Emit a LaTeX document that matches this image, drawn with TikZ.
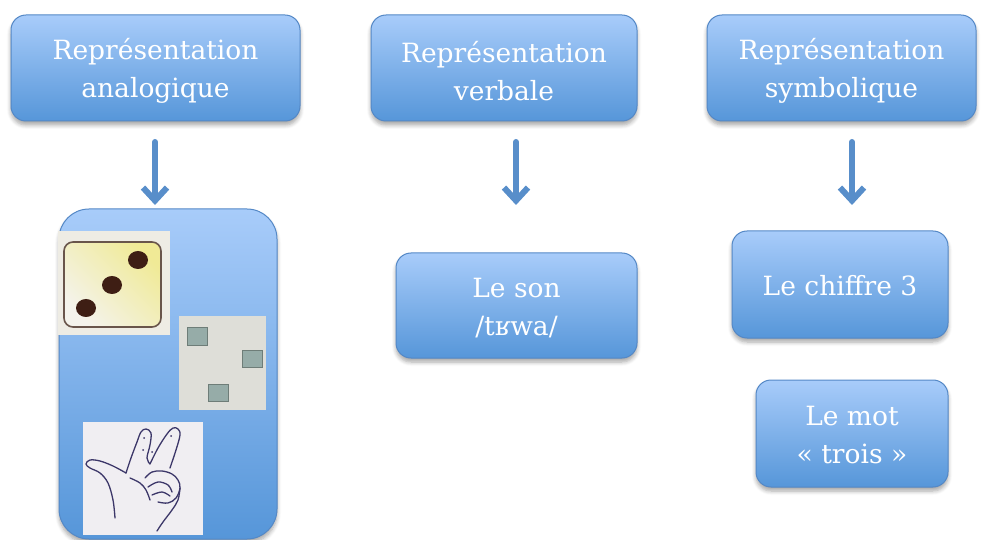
\documentclass[tikz,border=0pt]{standalone}
\usepackage{fontspec}
\setmainfont{DejaVu Serif}
\usetikzlibrary{arrows.meta,shadows.blur}
\definecolor{btop}{RGB}{168,204,250}
\definecolor{bbot}{RGB}{86,150,217}
\definecolor{bdraw}{RGB}{84,136,198}
\definecolor{arr}{RGB}{88,142,202}
\definecolor{diceback}{RGB}{238,236,228}
\definecolor{dicebd}{RGB}{105,85,75}
\definecolor{dicelt}{RGB}{244,243,236}
\definecolor{diceyl}{RGB}{240,234,150}
\definecolor{dot}{RGB}{62,30,20}
\definecolor{grayback}{RGB}{222,222,216}
\definecolor{sqfill}{RGB}{150,172,168}
\definecolor{sqdraw}{RGB}{110,125,120}
\definecolor{handbg}{RGB}{240,238,242}
\definecolor{handln}{RGB}{60,55,105}
\begin{document}
\begin{tikzpicture}[x=1pt,y=-1pt,
  box/.style={draw=bdraw, line width=1pt, rounded corners=15pt,
    top color=btop, bottom color=bbot, inner sep=0pt,
    blur shadow={shadow xshift=0pt, shadow yshift=-4pt, shadow blur radius=4pt, shadow blur steps=6, shadow opacity=35}},
  lab/.style={text=white, align=center, inner sep=0pt, font=\fontsize{26.5}{38}\selectfont},
  conn/.style={draw=arr, line width=6pt, line cap=round, line join=round,
    -{Straight Barb[length=13pt,width=24pt]}},
  hand/.style={draw=handln, line width=1.3pt, line cap=round, line join=round}]
\useasboundingbox (0,0) rectangle (986,540);

% top boxes
\node[box, minimum width=289pt, minimum height=106pt] (r1) at (155.5,68) {};
\node[box, minimum width=266pt, minimum height=106pt] (r2) at (504,68) {};
\node[box, minimum width=269pt, minimum height=106pt] (r3) at (841.5,68) {};
\node[lab] (t1) at ([yshift=-3pt]r1.center) {Représentation\\analogique};
\node[lab] (t2) at ([yshift=-3pt]r2.center) {Représentation\\verbale};
\node[lab] (t3) at ([yshift=-3pt]r3.center) {Représentation\\symbolique};

% lower boxes
\node[box, rounded corners=30pt, minimum width=218pt, minimum height=330pt] (ana) at (168,374) {};
\node[box, minimum width=241pt, minimum height=105pt] (son) at (516.5,305.5) {};
\node[box, minimum width=216pt, minimum height=107pt] (chif) at (840,284.5) {};
\node[box, minimum width=192pt, minimum height=107pt] (mot) at (852,433.5) {};
\node[lab] (t4) at ([yshift=-3pt]son.center) {Le son\\/tʁwa/};
\node[lab] (t5) at ([yshift=-1pt]chif.center) {Le chiffre 3};
\node[lab] (t6) at ([yshift=-2pt]mot.center) {Le mot\\« trois »};

% arrows
\coordinate (a1s) at (155,142); \coordinate (a1e) at (155,205);
\coordinate (a2s) at (516,142); \coordinate (a2e) at (516,205);
\coordinate (a3s) at (852,142); \coordinate (a3e) at (852,205);
\draw[conn] (a1s) -- (a1e);
\draw[conn] (a2s) -- (a2e);
\draw[conn] (a3s) -- (a3e);

% dice picture
\fill[diceback] (58,231) rectangle (170,335);
\shade[shading=axis, left color=dicelt, right color=diceyl, shading angle=135, rounded corners=9pt]
  (64,242) rectangle (161,327);
\draw[dicebd, line width=1.6pt, rounded corners=9pt] (64,242) rectangle (161,327);
\fill[dot] (138,260) ellipse (10 and 9);
\fill[dot] (112,285) ellipse (10 and 9);
\fill[dot] (86,308) ellipse (10 and 9);

% squares picture
\fill[grayback] (179,316) rectangle (266,410);
\filldraw[fill=sqfill, draw=sqdraw, line width=1pt] (187,328) rectangle (207,345);
\filldraw[fill=sqfill, draw=sqdraw, line width=1pt] (242,350) rectangle (262,367);
\filldraw[fill=sqfill, draw=sqdraw, line width=1pt] (208,384) rectangle (228,401);

% hand picture
\fill[handbg] (83,422) rectangle (203,535);
\draw[hand] plot[smooth, tension=0.6] coordinates {(126,473) (113,466) (100,461) (90,460) (86,464) (90,468) (100,473) (108,483) (113,500) (115,518)};
\draw[hand] plot[smooth, tension=0.6] coordinates {(126,473) (131,458) (137,442) (141,432) (146,429) (151,433) (150,445) (147,458) (150,464)};
\draw[hand] plot[smooth, tension=0.6] coordinates {(150,464) (158,448) (167,434) (173,428) (178,429) (180,435) (176,450) (170,468)};
\draw[hand] plot[smooth, tension=0.6] coordinates {(145,478) (152,472) (162,471) (172,474) (178,480) (180,488) (176,498) (168,503) (158,502)};
\draw[hand] plot[smooth, tension=0.6] coordinates {(148,487) (158,482) (168,485) (172,492)};
\draw[hand] plot[smooth, tension=0.6] coordinates {(152,495) (162,492) (170,496)};
\draw[hand] plot[smooth, tension=0.6] coordinates {(180,488) (178,500) (172,510) (163,522) (157,531)};
\draw[hand] plot[smooth, tension=0.6] coordinates {(130,478) (140,483) (146,490) (150,500)};
\fill[handln] (144,438) circle (1); \fill[handln] (152,452) circle (1);
\fill[handln] (143,450) circle (1); \fill[handln] (171,436) circle (1);
\end{tikzpicture}
\end{document}
